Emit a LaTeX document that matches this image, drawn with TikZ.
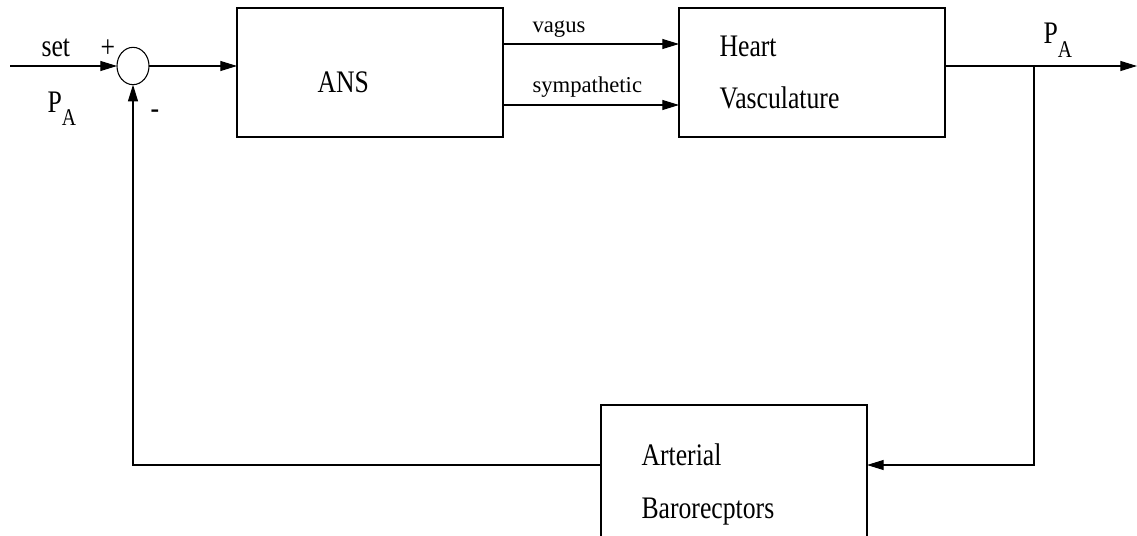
\documentclass[tikz,border=0pt]{standalone}
\usepackage{fontspec}
\setmainfont{Liberation Serif}
\newfontfamily\grande{Liberation Serif}[FakeStretch=0.82]
\usetikzlibrary{arrows.meta,shapes.geometric}
\newcommand{\presA}{P\raisebox{-0.42em}{\fontsize{18}{18}\selectfont A}}

\begin{document}
\begin{tikzpicture}[x=0.75pt,y=-0.75pt,line width=0.8pt,
  bloque/.style={draw,rectangle,minimum width=199.5pt,minimum height=96.75pt,inner sep=0pt,outer sep=0pt},
  sumador/.style={draw,ellipse,minimum width=24pt,minimum height=28pt,inner sep=0pt,outer sep=0pt},
  txt/.style={anchor=base west,inner sep=0pt,font=\grande\fontsize{23.5}{28}\selectfont},
  txtp/.style={anchor=base west,inner sep=0pt,font=\fontsize{17}{20}\selectfont},
  flecha/.style={-{Triangle[length=12.5pt,width=7.5pt]}}]
\useasboundingbox (0,0) rectangle (1137,535);
\clip (0,0) rectangle (1137,535);

%sumador y bloques
\node[sumador] (sum) at (133,66) {};
\node[bloque] (ans) at (370,72.5) {};
\node[bloque] (hv) at (812,72.5) {};
\node[bloque,minimum height=150pt] (baro) at (734,505) {};

%puntos libres
\coordinate (in) at (10,66);
\coordinate (out) at (1137,66);
\coordinate (vag) at (503,44);
\coordinate (sim) at (503,105);
\coordinate (rama) at (1034,66);
\coordinate (ret) at (1034,465);

%lazo directo
\draw[flecha] (in) -- (sum.west);
\draw[flecha] (sum.east) -- (sum.east -| ans.west);
\draw[flecha] (vag) -- (vag -| hv.west);
\draw[flecha] (sim) -- (sim -| hv.west);
\draw[flecha] (hv.east |- sum) -- (out);

%realimentacion
\draw[flecha] (rama) -- (ret) -- (ret -| baro.east);
\draw[flecha] (baro.west |- ret) -| (sum.south);

%textos
\node[txt] (set) at (41,57) {set};
\node[txt] (mas) at (100,58) {+};
\node[txt] (menos) at (150,118) {-};
\node[txt] (pin) at (47,112) {\presA};
\node[txt] (anst) at (317,93) {ANS};
\node[txtp] (vagt) at (532,33) {vagus};
\node[txtp] (simt) at (532,93) {sympathetic};
\node[txt] (heart) at (719,57) {Heart};
\node[txt] (vasc) at (719,108) {Vasculature};
\node[txt] (pout) at (1043,44) {\presA};
\node[txt] (art) at (641,465) {Arterial};
\node[txt] (bar) at (641,518) {Barorecptors};
\end{tikzpicture}
\end{document}
